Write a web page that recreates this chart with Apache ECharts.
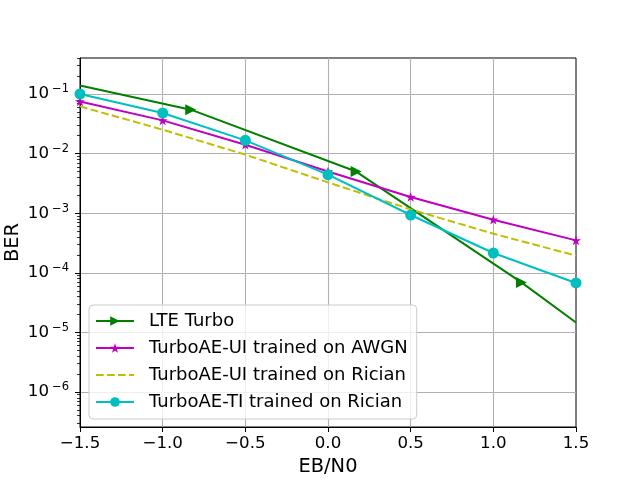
<!DOCTYPE html>
<html>
<head>
<meta charset="utf-8">
<title>BER vs EB/N0</title>
<script src="https://cdn.jsdelivr.net/npm/echarts@6/dist/echarts.min.js"></script>
<style>
html, body { margin: 0; padding: 0; background: #fff; }
#main { width: 640px; height: 480px; }
</style>
</head>
<body>
<div id="main"></div>
<script>
var seriesNames = ['LTE Turbo', 'TurboAE-UI trained on AWGN', 'TurboAE-UI trained on Rician', 'TurboAE-TI trained on Rician'];

var lteX = [-1.5, -0.83, 0.17, 1.17, 1.5];
var lteBer = [0.139, 0.0546, 0.0050, 6.9e-5, 1.47e-5];

var snr = [-1.5, -1.0, -0.5, 0.0, 0.5, 1.0, 1.5];
var awgnBer = [0.0751, 0.0361, 0.0141, 0.00502, 0.00187, 0.000778, 0.00035];
var ricianUiBer = [0.062, 0.0252, 0.0096, 0.00329, 0.00116, 0.000453, 0.000194];
var ricianTiBer = [0.100, 0.048, 0.0167, 0.00443, 0.000933, 0.000215, 6.75e-5];

var xTicks = [-1.5, -1.0, -0.5, 0.0, 0.5, 1.0, 1.5];
var yExps = [-6, -5, -4, -3, -2, -1];
var yMin = -6.587, yMax = -0.396;   // log10 of axis limits

var FONT = 'DejaVu Sans';
var starPath = 'path://M0,-10L2.35,-3.24L9.51,-3.09L3.8,1.24L5.88,8.09L0,4L-5.88,8.09L-3.8,1.24L-9.51,-3.09L-2.35,-3.24Z';

// minor ticks at 2..9 x 10^n
var minorTicks = [];
for (var n = -7; n <= 0; n++) {
    for (var k = 2; k <= 9; k++) {
        var v = n + Math.log10(k);
        if (v > yMin && v < yMax) minorTicks.push(v);
    }
}

function pts(xs, ys) {
    return xs.map(function (x, i) { return [x, Math.log10(ys[i])]; });
}

var lteData = pts(lteX, lteBer).map(function (p, i) {
    if (i === 0 || i === lteX.length - 1) return { value: p, symbol: 'none' };
    return p;
});

var chart = echarts.init(document.getElementById('main'), null, { renderer: 'canvas' });

var option = {
    backgroundColor: '#fff',
    animation: false,
    textStyle: { fontFamily: FONT },
    grid: {
        left: 80, top: 58, width: 496, height: 369,
        outerBoundsMode: 'none',
        containLabel: false,
        show: true, borderColor: '#000', borderWidth: 1, backgroundColor: '#fff'
    },
    legend: {
        orient: 'vertical',
        left: 89, top: 305,
        padding: [5, 9, 6, 6],
        itemWidth: 38,
        itemHeight: 12,
        itemGap: 5,
        backgroundColor: 'rgba(255,255,255,0.8)',
        borderColor: '#cccccc',
        borderWidth: 1,
        borderRadius: 4,
        textStyle: { fontFamily: FONT, fontSize: 18, color: '#000', lineHeight: 22, padding: [0, 0, 0, 10] },
        data: [
            seriesNames[0],
            seriesNames[1],
            { name: seriesNames[2], itemStyle: { opacity: 0 } },
            seriesNames[3]
        ]
    },
    xAxis: {
        type: 'value',
        min: -1.5, max: 1.5, interval: 0.5,
        name: 'EB/N0',
        nameLocation: 'middle',
        nameGap: 30,
        nameMoveOverlap: false,
        nameTextStyle: { fontFamily: FONT, fontSize: 19.4, color: '#000', verticalAlign: 'top' },
        axisLine: { onZero: false, lineStyle: { color: '#000', width: 1 } },
        axisTick: { show: true, inside: false, length: 5, lineStyle: { color: '#000' } },
        axisLabel: {
            fontFamily: FONT, fontSize: 16.67, color: '#000', margin: 8,
            formatter: function (v) {
                var s = Math.abs(v).toFixed(1);
                return v < 0 ? '\u2212' + s : s;
            }
        },
        splitLine: { show: true, showMinLine: false, showMaxLine: false, lineStyle: { color: '#b0b0b0', width: 1.1 } }
    },
    yAxis: [{
        type: 'value',
        min: yMin, max: yMax,
        name: 'BER',
        nameLocation: 'middle',
        nameGap: 58,
        nameMoveOverlap: false,
        nameTextStyle: { fontFamily: FONT, fontSize: 19.4, color: '#000' },
        axisLine: { show: true, onZero: false, lineStyle: { color: '#000', width: 1 } },
        axisTick: { show: true, inside: false, length: 5, customValues: yExps, lineStyle: { color: '#000' } },
        axisLabel: {
            customValues: yExps,
            margin: 11,
            formatter: function (v) {
                return '{b|10}{s|\u2212' + Math.abs(Math.round(v)) + '}';
            },
            rich: {
                b: { fontFamily: FONT, fontSize: 16.67, color: '#000' },
                s: { fontFamily: FONT, fontSize: 11.5, color: '#000', padding: [0, 0, 9, 3] }
            }
        },
        splitLine: { show: true, lineStyle: { color: '#b0b0b0', width: 1.1 } }
    }, {
        type: 'value',
        min: yMin, max: yMax,
        position: 'left',
        axisLine: { show: false, onZero: false },
        axisTick: { show: true, inside: false, length: 3, customValues: minorTicks, lineStyle: { color: '#000', width: 0.8 } },
        axisLabel: { show: false },
        splitLine: { show: false }
    }],
    series: [{
        name: seriesNames[0],
        type: 'line',
        data: lteData,
        color: '#008000',
        symbol: 'triangle',
        symbolRotate: -90,
        symbolSize: 11,
        showAllSymbol: true,
        lineStyle: { width: 2 },
        z: 3
    }, {
        name: seriesNames[1],
        type: 'line',
        data: pts(snr, awgnBer),
        color: '#bf00bf',
        symbol: starPath,
        symbolKeepAspect: true,
        symbolSize: 10,
        showAllSymbol: true,
        lineStyle: { width: 2 },
        z: 4
    }, {
        name: seriesNames[2],
        type: 'line',
        data: pts(snr, ricianUiBer),
        color: '#bfbf00',
        symbol: 'none',
        lineStyle: { width: 2, type: [7.7, 3.3] },
        z: 5
    }, {
        name: seriesNames[3],
        type: 'line',
        data: pts(snr, ricianTiBer),
        color: '#00bfbf',
        symbol: 'circle',
        symbolSize: 11,
        showAllSymbol: true,
        lineStyle: { width: 2 },
        z: 6
    }]
};
chart.setOption(option);
</script>
</body>
</html>
